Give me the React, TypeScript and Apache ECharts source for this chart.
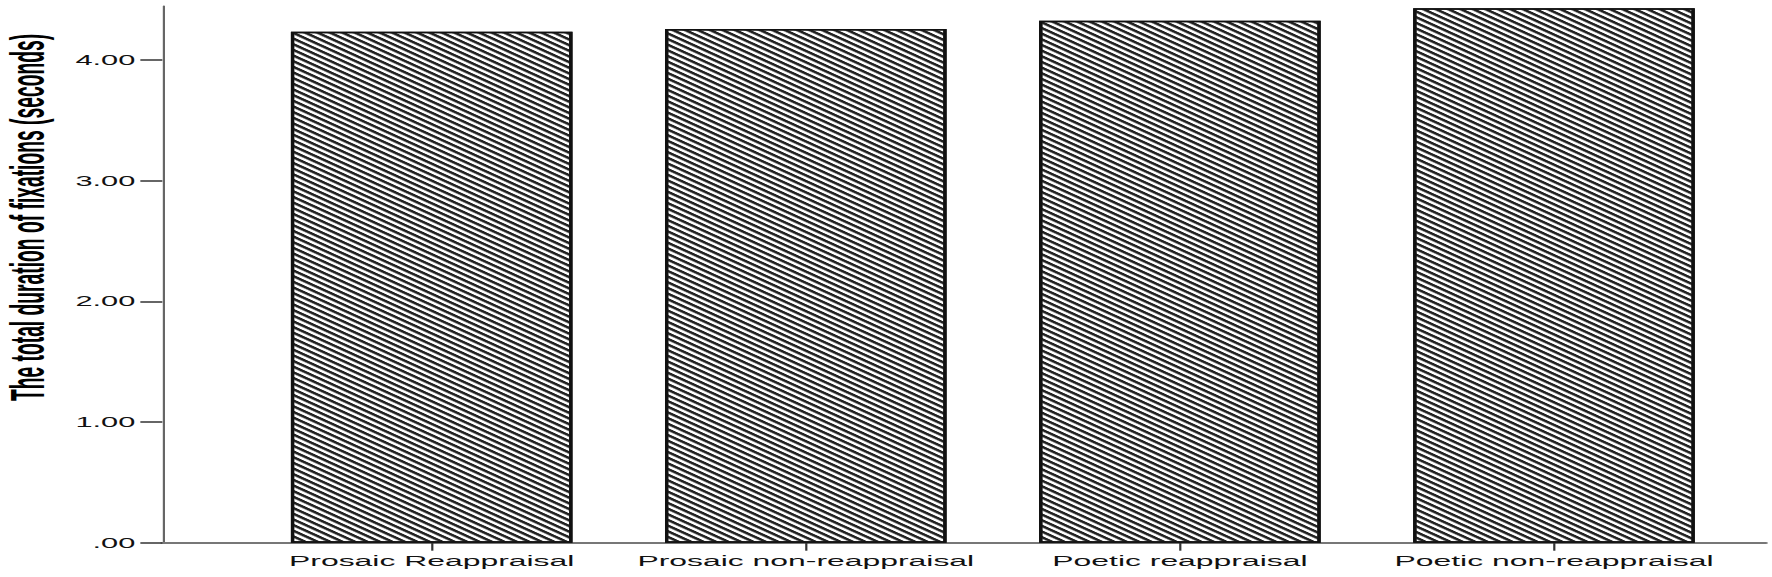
import React, { useEffect, useRef } from "react";
import * as echarts from "echarts";

const categories = [
  "Prosaic Reappraisal",
  "Prosaic non-reappraisal",
  "Poetic reappraisal",
  "Poetic non-reappraisal",
];
const values = [4.234, 4.256, 4.325, 4.428];
const yTicks = [0, 1, 2, 3, 4];
const yTitle = "The total duration of fixations (seconds)";

// The reference is stretched horizontally; draw at narrow width and stretch.
const SX = 2.2;
const W = 1772 / SX;
const H = 577;

export default function App() {
  const ref = useRef<HTMLDivElement>(null);
  useEffect(() => {
    if (!ref.current) return;
    const chart = echarts.init(ref.current, null, { renderer: "svg", width: W, height: H });
    const font = "Arial, 'Liberation Sans', sans-serif";
    chart.setOption({
      animation: false,
      backgroundColor: "#fff",
      grid: { left: 73.8, right: W - 802.6, top: 6, bottom: H - 542.7 },
      xAxis: {
        type: "value",
        min: -0.72,
        max: 3.566,
        splitLine: { show: false },
        axisLine: { show: true, onZero: false, lineStyle: { color: "#777", width: 2 } },
        axisTick: {
          show: true,
          customValues: [0, 1, 2, 3],
          length: 8,
          lineStyle: { color: "#333", width: 1 },
        },
        axisLabel: {
          customValues: [0, 1, 2, 3],
          formatter: (v: number) => categories[Math.round(v)],
          margin: 11,
          fontSize: 14.5,
          fontFamily: font,
          color: "#111",
        },
      },
      yAxis: {
        type: "value",
        min: 0,
        max: 4.4466,
        splitLine: { show: false },
        axisLine: { show: true, onZero: false, lineStyle: { color: "#666", width: 1 } },
        axisTick: {
          show: true,
          customValues: yTicks,
          length: 10,
          lineStyle: { color: "#333", width: 1.5 },
        },
        axisLabel: {
          customValues: yTicks,
          formatter: (v: number) => (v === 0 ? ".00" : v.toFixed(2)),
          margin: 12.3,
          fontSize: 14,
          fontFamily: font,
          color: "#111",
        },
      },
      series: [
        {
          type: "bar",
          barWidth: 128,
          data: categories.map((c, i) => [i, values[i]]),
          itemStyle: {
            color: "#fff",
            borderColor: "#111",
            borderWidth: 1.5,
            decal: {
              symbol: "rect",
              symbolSize: 1,
              color: "#222",
              dashArrayX: [1, 0],
              dashArrayY: [2, 2],
              rotation: Math.PI / 4,
            },
          },
        },
      ],
      graphic: [
        {
          type: "text",
          x: 12.5,
          y: 217.5,
          rotation: Math.PI / 2,
          scaleX: 0.876,
          style: {
            text: yTitle,
            font: "bold 22px Arial, 'Liberation Sans', sans-serif",
            fill: "#000",
            textAlign: "center",
            textVerticalAlign: "middle",
          },
        },
      ],
    });
    return () => chart.dispose();
  }, []);
  return (
    <div
      style={{
        position: "absolute",
        left: 0,
        top: 0,
        width: 1772,
        height: H,
        overflow: "hidden",
        background: "#fff",
      }}
    >
      <div
        ref={ref}
        style={{
          width: W,
          height: H,
          transform: `scaleX(${SX})`,
          transformOrigin: "0 0",
        }}
      />
    </div>
  );
}
